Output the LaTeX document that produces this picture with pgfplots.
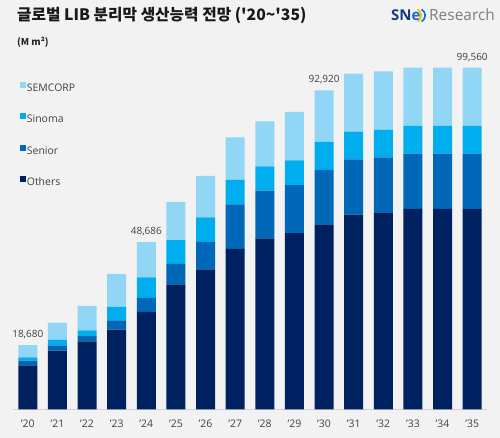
\documentclass[border=0pt]{standalone}
\usepackage{pgfplots}
\pgfplotsset{compat=1.18}
\usepackage{pgfplotstable}
\usepackage{fontspec}
\setmainfont{Open Sans}
\newfontfamily\kr{Noto Sans CJK KR}
\definecolor{bg}{RGB}{242,242,242}
\definecolor{cOth}{RGB}{0,33,96}
\definecolor{cSen}{RGB}{0,104,183}
\definecolor{cSin}{RGB}{0,174,239}
\definecolor{cSem}{RGB}{146,214,246}
\definecolor{txt}{RGB}{64,64,64}
\definecolor{logonavy}{RGB}{22,58,130}
\definecolor{logoblue}{RGB}{20,110,200}
\definecolor{logogray}{RGB}{125,125,125}
\definecolor{logoyel}{RGB}{235,190,20}
\tikzset{vlab/.style={anchor=base, inner sep=0pt, text=txt, font=\fontsize{10}{12}\selectfont, yshift=7.5bp}}

\pgfplotstableread{
x Others Senior Sinoma SEMCORP
0  12820  1340   990  3530
1  17080  1570  1550  5040
2  19820  1540  1660  7090
3  23200  2740  3880  9620
4  28360  4080  6030 10216
5  36430  5920  6990 11080
6  40800  7960  7140 12100
7  46720 13030  7080 12440
8  49840 13870  7110 13120
9  51380 13990  7200 14080
10 53920 15830  8160 15010
11 56720 16150  8040 16900
12 57420 15970  8070 16990
13 58440 16060  8070 16990
14 58440 16060  8070 16990
15 58440 16060  8070 16990
}\capdata

\begin{document}
\begin{tikzpicture}
\fill[bg] (0,0) rectangle (500bp,438bp);
\useasboundingbox (0,0) rectangle (500bp,438bp);
% title
\node[anchor=base west, inner sep=0, text=black!90] at (17bp,417.5bp)
  {\kr\bfseries\fontsize{15.8}{17}\selectfont 글로벌 LIB 분리막 생산능력 전망 ('20\textasciitilde'35)};
\node[anchor=base west, inner sep=0, text=black!85] at (17bp,392.5bp)
  {\kr\bfseries\fontsize{9.5}{10}\selectfont (M m²)};
% logo
\node[anchor=base west, inner sep=0] (sn) at (391bp,417bp)
  {\fontsize{15}{16}\selectfont\bfseries\color{logonavy}SN\color{logoblue}e};
\draw[logoyel, line width=1.6bp] ([xshift=-3bp,yshift=-0.5bp]sn.base east) arc[start angle=-60,end angle=60,radius=7bp];
\draw[logoblue, line width=1.6bp] ([xshift=1bp,yshift=-0.5bp]sn.base east) arc[start angle=-60,end angle=60,radius=7bp];
\node[anchor=base west, inner sep=0, text=logogray] at (429bp,417bp)
  {\fontsize{15.5}{16}\selectfont Research};

\begin{axis}[
  at={(13bp,28.7bp)}, anchor=south west, scale only axis,
  width=474bp, height=369.3bp,
  xmin=-0.5, xmax=15.5, ymin=0, ymax=107632,
  ybar stacked, bar width=0.64,
  axis x line*=bottom, axis y line=none,
  x axis line style={draw=black!18, line width=0.8bp, -},
  xtick={0,...,15},
  xticklabels={’20,’21,’22,’23,’24,’25,’26,’27,’28,’29,’30,’31,’32,’33,’34,’35},
  major tick length=0pt,
  xticklabel style={font=\fontsize{10.5}{12}\selectfont, text=txt, yshift=-7bp},
  ytick=\empty,
  clip=false,
  reverse legend,
  legend image code/.code={\draw[#1,draw=none] (0bp,0.6bp) rectangle (6bp,6.6bp);},
  legend style={at={(0,1)}, anchor=north west,
    xshift=6.4bp, yshift=-41.5bp, draw=none, fill=none, inner sep=0pt,
    row sep=18.9bp, column sep=0bp,
    nodes={inner sep=1.3bp, text height=7.5bp, text depth=2bp, text=txt},
    font=\fontsize{10.5}{12}\selectfont},
  legend cell align=left,
]
\addplot[fill=cOth, draw=none] table[x=x,y=Others] {\capdata};
\addplot[fill=cSen, draw=none] table[x=x,y=Senior] {\capdata};
\addplot[fill=cSin, draw=none] table[x=x,y=Sinoma] {\capdata};
\addplot[fill=cSem, draw=none] table[x=x,y=SEMCORP] {\capdata};
\legend{Others,Senior,Sinoma,SEMCORP}
\node[vlab] at (axis cs:0,18680) {18,680};
\node[vlab] at (axis cs:4,48686) {48,686};
\node[vlab] at (axis cs:10,92920) {92,920};
\node[vlab] at (axis cs:15,99560) {99,560};
\end{axis}
\end{tikzpicture}
\end{document}
